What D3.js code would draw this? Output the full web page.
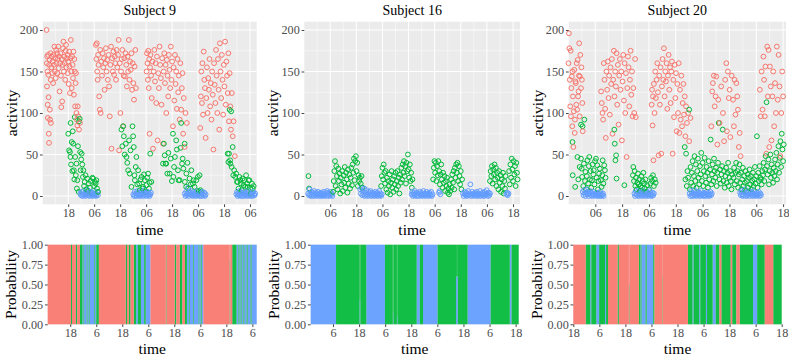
<!DOCTYPE html>
<html lang="en">

<head>
    <meta charset="UTF-8">
    <script src="https://cdn.jsdelivr.net/npm/d3@7"></script>
    <title>Activity states - Subjects 9, 16, 20</title>
    <style>
        body { margin: 0; background: #fff; }
    </style>
</head>

<body>
    <div id="viz"></div>

    <script>
        // time is in hours from midnight of the first day; [hour, activity]
        const s9Active = [[8.0,200],[8.1,160],[8.2,132],[8.3,168],[8.4,150],[8.5,110],[8.6,94],[8.7,170],[8.8,146],[8.9,119],[9.0,75],[9.1,64],[9.2,158],[9.4,164],[9.5,104],[9.6,92],[9.8,172],[9.9,140],[10.0,88],[10.2,155],[10.4,168],[10.6,148],[10.8,162],[11.0,136],[11.2,170],[11.4,158],[11.6,180],[11.8,150],[12.0,166],[12.2,142],[12.4,176],[12.6,160],[12.8,172],[13.0,148],[13.2,165],[13.4,180],[13.6,154],[13.8,168],[14.0,126],[14.2,160],[14.4,172],[14.6,145],[14.8,107],[15.0,165],[15.2,114],[15.4,158],[15.6,178],[15.8,186],[16.0,150],[16.2,168],[16.4,160],[16.6,140],[16.8,175],[17.0,182],[17.2,155],[17.4,166],[17.6,170],[17.8,148],[18.0,162],[18.2,135],[18.4,174],[18.6,156],[18.8,124],[19.0,166],[19.2,188],[19.4,150],[19.6,130],[19.8,168],[20.0,158],[20.2,142],[20.4,174],[20.6,122],[20.8,165],[21.0,150],[21.2,108],[21.4,136],[21.6,148],[21.8,100],[22.0,92],[22.2,85],[22.4,108],[22.6,96],[23.0,80],[23.4,88],
            [30.8,182],[31.0,165],[31.2,184],[31.4,150],[31.6,140],[31.8,170],[32.0,158],[32.3,120],[32.6,104],[32.8,176],[33.0,100],[33.3,162],[33.6,145],[33.9,172],[34.2,155],[34.5,166],[34.8,128],[35.1,160],[35.4,178],[35.7,150],[36.0,164],[36.3,140],[36.6,170],[36.9,132],[37.2,96],[37.5,158],[37.8,180],[38.0,57],[38.3,166],[38.6,150],[38.9,174],[39.2,146],[39.5,168],[39.8,160],[40.1,140],[40.4,176],[40.7,155],[41.0,170],[41.3,188],[41.5,55],[41.8,160],[42.1,100],[42.4,150],[42.7,165],[43.0,176],[43.3,84],[43.6,145],[43.9,166],[44.2,144],[44.5,172],[44.8,158],[45.1,132],[45.4,168],[45.7,150],[46.0,188],[46.3,140],[46.6,162],[46.9,152],[47.2,172],[47.5,128],[47.8,160],[48.1,136],[48.4,116],[48.7,156],[49.0,176],[49.3,130],
            [54.2,150],[54.4,172],[54.6,160],[54.8,140],[55.0,175],[55.2,130],[55.4,165],[55.6,75],[55.8,155],[56.0,170],[56.3,145],[56.6,118],[56.9,162],[57.2,57],[57.5,150],[57.8,176],[58.1,138],[58.4,160],[58.7,112],[59.0,168],[59.3,67],[59.6,148],[59.9,130],[60.2,180],[60.5,158],[60.8,142],[61.1,110],[61.4,166],[61.8,63],[62.1,150],[62.4,172],[62.7,136],[63.0,158],[63.3,100],[63.6,164],[63.9,145],[64.2,120],[64.5,170],[64.8,152],[65.1,130],[65.4,180],[65.7,140],[66.0,162],[66.4,84],[66.7,155],[67.0,115],[67.3,170],[67.6,135],[67.9,150],[68.2,105],[68.5,165],[68.8,125],[69.1,145],[69.5,92],[69.8,160],[70.2,104],[70.5,130],[70.8,148],[71.1,75],[71.4,118],[71.8,59],[72.2,100],[72.8,88],
            [79.0,82],[79.3,120],[79.5,150],[79.8,112],[80.0,160],[80.3,98],[80.6,174],[80.9,140],[81.2,130],[81.5,70],[81.8,118],[82.1,155],[82.4,100],[82.7,142],[83.0,128],[83.3,165],[83.6,108],[83.9,136],[84.2,92],[84.5,150],[84.8,122],[85.1,56],[85.4,160],[85.7,134],[86.0,112],[86.3,176],[86.6,145],[86.9,100],[87.2,165],[87.5,128],[87.8,80],[88.1,184],[88.4,150],[88.7,118],[89.0,170],[89.3,140],[89.6,98],[89.9,158],[90.2,132],[90.5,186],[90.8,110],[91.1,162],[91.4,145],[91.7,124],[92.0,172],[92.3,90],[92.6,148],[92.9,108],[93.2,80],[93.6,124],[94.0,72],[94.4,90],[95.0,48]]
        const s9Moderate = [[18.0,75],[18.4,55],[18.8,53],[19.0,47],[19.1,88],[19.3,38],[19.6,65],[19.9,30],[20.1,78],[20.3,63],[20.6,31],[20.8,20],[21.0,95],[21.2,47],[21.5,25],[21.8,39],[22.0,9],[22.2,19],[22.5,60],[22.8,5],[23.0,90],[23.3,93],[23.5,53],[23.7,31],[24.0,44],[24.2,51],[24.5,38],[24.8,23],[25.0,31],[25.3,12],[25.6,17],[26.0,25],[26.4,8],[26.8,21],[27.2,6],[27.5,15],[28.0,10],[28.4,18],[28.8,4],[29.2,22],[29.5,21],[30.0,12],[30.4,17],[30.7,15],[31.0,19],[31.3,9],[31.8,5],
            [42.6,80],[43.0,60],[43.4,84],[43.7,72],[44.1,50],[44.6,63],[44.9,47],[45.3,40],[45.7,31],[46.1,67],[46.4,27],[46.8,55],[47.2,11],[47.7,84],[48.0,72],[48.3,59],[48.6,25],[48.8,19],[49.2,35],[49.5,47],[49.9,14],[50.3,31],[50.8,15],[51.1,7],[51.5,20],[51.9,23],[52.3,9],[52.6,11],[53.0,26],[53.4,19],[53.8,5],[54.1,13],[54.5,22],[54.9,27],[55.3,9],[55.6,16],[55.9,51],[56.4,17],
            [61.8,39],[62.2,63],[62.6,49],[63.0,39],[63.3,39],[63.8,27],[64.3,52],[64.9,27],[65.4,45],[65.9,18],[66.4,75],[66.6,23],[66.9,35],[67.3,47],[67.9,67],[68.2,56],[68.7,31],[69.0,19],[69.5,19],[69.9,58],[70.2,88],[70.6,39],[70.9,45],[71.2,33],[71.8,63],[71.9,17],[72.5,11],[72.6,27],[73.1,40],[73.4,9],[74.1,21],[74.6,14],[74.9,31],[75.6,15],[75.9,19],[76.4,11],[77.2,19],[77.9,23],[78.3,6],[78.7,25],[79.1,7],[79.5,5],
            [91.7,51],[92.0,41],[92.3,51],[92.6,104],[92.8,43],[92.9,39],[93.3,102],[93.5,35],[94.0,59],[94.3,25],[94.7,31],[95.2,23],[95.6,27],[96.0,17],[96.3,17],[96.7,9],[97.1,23],[97.5,19],[97.8,15],[98.2,7],[98.6,21],[99.0,13],[99.4,19],[99.8,11],[100.2,25],[100.6,15],[100.9,11],[101.3,19],[101.7,19],[102.1,9],[102.5,3],[102.9,15],[103.3,9],[103.7,12]]
        const s9Rest = [[23.6,3],[23.9,1],[24.2,5],[24.5,0],[24.8,2],[25.1,6],[25.4,1],[25.7,3],[26.0,0],[26.3,4],[26.6,2],[26.9,7],[27.2,1],[27.5,3],[27.8,0],[28.1,5],[28.4,2],[28.7,1],[29.0,4],[29.3,0],[29.6,2],[29.9,6],[30.2,1],[30.5,3],[30.8,0],[31.1,2],[31.4,5],[31.7,1],
            [48.1,2],[48.4,0],[48.7,5],[49.0,1],[49.3,3],[49.6,0],[49.9,6],[50.2,2],[50.5,1],[50.8,4],[51.1,0],[51.4,3],[51.7,1],[52.0,5],[52.3,2],[52.6,0],[52.9,3],[53.2,7],[53.5,1],[53.8,4],[54.1,0],[54.4,2],[54.7,5],[55.0,1],[55.3,3],[55.6,0],[55.9,2],[56.2,4],
            [71.9,3],[72.2,0],[72.5,5],[72.8,1],[73.1,3],[73.4,10],[73.7,0],[74.0,4],[74.3,2],[74.6,6],[74.9,1],[75.2,3],[75.5,0],[75.8,5],[76.1,2],[76.4,1],[76.7,4],[77.0,0],[77.3,3],[77.6,6],[77.9,1],[78.2,2],[78.5,0],[78.8,4],[79.1,1],[79.4,3],[79.7,0],[80.0,5],[80.3,2],[80.6,1],[80.9,4],[81.2,0],[81.5,2],
            [95.7,2],[96.0,5],[96.3,0],[96.6,3],[96.9,1],[97.2,6],[97.5,2],[97.8,0],[98.1,4],[98.4,1],[98.7,3],[99.0,0],[99.3,5],[99.6,2],[99.9,1],[100.2,4],[100.5,0],[100.8,3],[101.1,6],[101.4,1],[101.7,2],[102.0,0],[102.3,4],[102.6,1],[102.9,3],[103.2,0],[103.5,5],[103.8,2],[104.1,1],[104.4,3]]

        const s16Active = []
        const s16Moderate = [[20.0,24],[20.3,9],
            [31.3,5],[31.6,18],[31.9,30],[32.2,42],[32.5,12],[32.8,36],[33.1,24],[33.4,8],[33.7,33],[34.0,18],[34.3,27],[34.6,3],[34.9,22],[35.2,14],[35.5,30],[35.8,6],[36.1,25],[36.4,16],[36.7,35],[37.0,10],[37.3,28],[37.6,20],[37.9,4],[38.2,32],[38.5,15],[38.8,26],[39.1,9],[39.4,22],[39.7,34],[40.0,13],[40.3,38],[40.6,28],[40.9,45],[41.2,19],[41.5,42],[41.8,48],[42.1,30],[42.4,40],[42.7,12],[43.0,25],[43.3,18],[43.6,22],[44.0,15],[44.4,24],[44.8,10],
            [53.4,12],[53.7,24],[54.0,34],[54.3,20],[54.6,38],[54.9,28],[55.2,15],[55.5,30],[55.8,8],[56.1,22],[56.4,4],[56.7,18],[57.0,12],[57.3,26],[57.6,2],[57.9,16],[58.2,30],[58.5,10],[58.8,20],[59.1,5],[59.4,24],[59.7,14],[60.0,28],[60.3,8],[60.6,18],[60.9,30],[61.2,12],[61.5,22],[61.8,3],[62.1,26],[62.4,16],[62.7,34],[63.0,20],[63.3,38],[63.6,28],[63.9,42],[64.2,24],[64.5,36],[64.8,15],[65.1,40],[65.4,30],[65.7,50],[66.0,32],[66.3,22],[66.6,38],[66.9,18],[67.2,28],[67.5,10],[67.8,20],
            [77.3,20],[77.6,34],[77.9,42],[78.2,28],[78.5,40],[78.8,18],[79.1,36],[79.4,25],[79.7,42],[80.1,30],[80.4,14],[80.7,26],[81.0,38],[81.3,20],[81.6,10],[81.9,28],[82.2,16],[82.5,24],[82.8,6],[83.1,18],[83.4,12],[83.7,22],[84.0,4],[84.3,9],[84.6,2],[84.9,14],[85.2,6],[85.5,20],[85.8,10],[86.1,26],[86.4,16],[86.7,30],[87.0,8],[87.3,34],[87.6,22],[87.9,38],[88.2,28],[88.5,40],[88.8,18],[89.1,36],[89.4,24],[89.7,14],[90.0,30],[90.3,8],[90.6,20],
            [103.4,18],[103.7,30],[104.0,24],[104.3,36],[104.6,15],[104.9,32],[105.2,26],[105.5,38],[105.8,20],[106.1,34],[106.4,12],[106.7,28],[107.0,22],[107.3,8],[107.6,30],[107.9,16],[108.2,25],[108.5,5],[108.8,20],[109.1,12],[109.4,28],[109.7,3],[110.0,18],[110.3,9],[110.6,24],[112.2,30],[112.5,14],[112.8,38],[113.1,22],[113.4,45],[113.7,32],[114.0,18],[114.3,42],[114.6,26],[114.9,36],[115.2,12],[115.5,40],[115.8,28],[116.1,20]]
        const s16Rest = [[19.9,3],[20.2,1],[20.5,8],[20.8,2],[21.1,0],[21.4,5],[21.7,1],[22.0,3],[22.3,0],[22.6,6],[22.9,2],[23.2,1],[23.5,4],[23.8,0],[24.1,2],[24.4,5],[24.7,1],[25.0,3],[25.3,0],[25.6,2],[25.9,4],[26.2,1],[26.5,0],[26.8,3],[27.1,5],[27.4,1],[27.7,2],[28.0,0],[28.3,4],[28.6,6],[28.9,1],[29.2,3],[29.5,0],[29.8,2],[30.1,5],[30.4,1],[30.7,3],[31.0,0],
            [43.8,8],[44.1,3],[44.4,10],[44.7,1],[45.0,6],[45.3,2],[45.6,9],[45.9,0],[46.2,4],[46.5,1],[46.8,7],[47.1,2],[47.4,0],[47.7,5],[48.0,3],[48.3,1],[48.6,6],[48.9,0],[49.2,2],[49.5,4],[49.8,1],[50.1,3],[50.4,0],[50.7,5],[51.0,2],[51.3,1],[51.6,4],[51.9,0],[52.2,2],[52.5,6],[52.8,1],[53.1,3],[53.4,0],[53.7,2],
            [67.4,2],[67.7,5],[68.0,0],[68.3,3],[68.6,1],[68.9,6],[69.2,2],[69.5,0],[69.8,4],[70.1,1],[70.4,3],[70.7,0],[71.0,5],[71.3,2],[71.6,1],[71.9,4],[72.2,0],[72.5,2],[72.8,6],[73.1,1],[73.4,3],[73.7,0],[74.0,2],[74.3,5],[74.6,1],[74.9,3],[75.2,0],[75.5,4],[75.8,2],[76.1,1],[76.4,5],[76.7,0],[77.0,2],[80.0,4],[80.3,6],[80.6,2],
            [91.0,3],[91.3,0],[91.6,5],[91.9,2],[92.2,1],[92.5,4],[92.8,0],[93.1,2],[93.4,6],[93.7,1],[94.0,3],[94.4,14],[94.7,0],[95.0,2],[95.3,5],[95.6,1],[95.9,3],[96.2,0],[96.5,4],[96.8,2],[97.1,1],[97.4,5],[97.7,0],[98.0,3],[98.3,1],[98.6,2],[98.9,6],[99.2,0],[99.5,3],[99.8,1],[100.1,4],[100.4,2],[100.7,0],[101.0,5],[101.3,1],[101.6,3],[101.9,7],[102.2,2],[102.5,0],[102.8,4],[103.1,1],[103.4,3],[111.0,2],[111.3,4],[111.6,1],[111.9,3]]

        const s20Active = [[18.0,160],[18.2,196],[18.4,178],[18.6,140],[18.8,108],[19.0,175],[19.1,96],[19.3,130],[19.5,144],[19.7,84],[19.8,150],[20.0,120],[20.2,59],[20.4,102],[20.6,152],[20.8,76],[20.9,92],[21.1,138],[21.3,136],[21.5,110],[21.7,160],[21.9,104],[22.1,164],[22.3,120],[22.5,126],[22.7,145],[22.8,184],[23.0,96],[23.1,144],[23.3,170],[23.6,130],[23.8,155],[24.0,140],[24.2,112],[24.4,78],
            [32.6,126],[32.9,112],[33.2,100],[33.5,92],[33.8,160],[34.1,140],[34.4,105],[34.7,70],[35.0,150],[35.3,128],[35.6,162],[35.9,118],[36.2,145],[36.5,98],[36.8,155],[37.1,135],[37.4,165],[37.7,75],[38.0,140],[38.3,175],[38.6,120],[38.9,150],[39.2,132],[39.5,172],[39.8,110],[40.1,158],[40.4,86],[40.7,145],[41.0,165],[41.3,128],[41.6,150],[41.9,67],[42.2,138],[42.5,170],[42.8,115],[43.1,160],[43.4,100],[43.7,148],[44.0,47],[44.3,130],[44.6,168],[44.9,155],[45.2,108],[45.5,140],[45.8,175],[46.1,122],[46.4,150],[46.7,96],[47.0,130],[47.4,100],[47.8,165],[48.1,95],
            [55.2,110],[55.4,128],[55.6,85],[55.8,120],[56.0,43],[56.2,135],[56.5,100],[56.8,150],[57.1,118],[57.4,140],[57.7,160],[58.0,125],[58.3,49],[58.6,145],[58.9,110],[59.2,155],[59.5,51],[59.8,132],[60.1,165],[60.4,140],[60.7,178],[61.0,120],[61.3,150],[61.6,138],[61.9,160],[62.2,105],[62.5,145],[62.8,170],[63.1,128],[63.4,155],[63.7,112],[64.0,150],[64.3,162],[64.6,51],[64.9,140],[65.2,95],[65.5,158],[65.8,118],[66.1,148],[66.4,78],[66.7,135],[67.0,100],[67.3,160],[67.6,76],[67.9,128],[68.2,92],[68.5,145],[68.8,84],[69.1,112],[69.4,135],[69.7,98],[70.0,120],[70.3,72],[70.6,108],[71.0,88],[71.5,100],[72.0,66],[72.6,94],
            [81.9,84],[82.3,126],[82.6,136],[83.0,145],[83.4,108],[83.8,120],[84.1,144],[84.6,62],[85.0,116],[85.6,88],[86.3,132],[87.1,100],[87.6,66],[88.1,140],[88.6,160],[88.9,78],[89.3,150],[89.7,118],[90.1,128],[90.4,71],[91.0,145],[91.6,116],[92.0,84],[92.3,140],[92.7,98],[93.1,136],[93.5,120],[93.8,104],[94.2,59],[94.6,76],[95.0,48],
            [103.6,128],[104.0,96],[104.4,150],[104.8,104],[105.2,168],[105.5,140],[105.8,96],[106.1,156],[106.5,51],[106.9,180],[107.2,120],[107.5,176],[107.8,59],[108.1,156],[108.5,132],[108.8,67],[109.2,120],[109.6,150],[110.0,84],[110.4,136],[110.8,100],[111.2,180],[111.6,116],[112.0,170],[112.4,132],[112.8,48],[113.2,100],[113.6,150],[114.0,120]]
        const s20Moderate = [[19.8,65],[19.9,25],[21.0,11],[22.0,47],[22.4,20],[23.0,35],[23.6,86],[23.6,45],[23.9,33],[24.1,23],[24.3,84],[24.6,12],[24.9,39],[25.1,92],[25.4,18],[25.6,29],[25.9,8],[26.2,24],[26.5,43],[26.8,15],[27.1,36],[27.3,47],[27.6,20],[27.9,30],[28.2,10],[28.5,19],[28.8,38],[29.1,26],[29.3,31],[29.6,14],[29.9,42],[30.3,45],[30.6,22],[30.9,37],[31.2,8],[31.4,18],[31.7,27],[32.0,33],[32.5,19],[32.8,11],[33.1,25],[33.3,43],[33.6,15],[34.0,37],[34.3,31],[34.6,22],[38.5,80],[38.7,63],[39.0,43],[39.3,49],[39.5,21],[43.0,13],
            [46.8,25],[47.0,35],[47.3,18],[47.6,30],[47.9,12],[48.2,22],[48.5,8],[48.8,16],[49.1,27],[49.4,14],[49.7,20],[50.0,6],[50.3,12],[50.6,24],[50.9,10],[51.2,18],[51.5,28],[51.8,15],[52.1,9],[52.4,20],[52.8,5],[53.2,13],[54.0,8],[54.6,15],[55.0,22],[55.4,18],[55.8,25],[56.2,12],[56.6,20],[57.0,16],
            [70.0,59],[70.3,20],[70.6,51],[70.9,12],[71.2,30],[71.5,22],[72.0,104],[72.3,8],[72.6,35],[72.9,16],[73.2,28],[73.5,42],[73.8,12],[74.1,24],[74.4,48],[74.7,18],[75.0,38],[75.3,10],[75.6,30],[75.9,45],[76.2,22],[76.5,14],[76.8,36],[77.1,26],[77.4,52],[77.7,18],[78.0,40],[78.3,12],[78.6,30],[78.9,46],[79.2,24],[79.5,16],[79.8,35],[80.1,28],[80.4,10],[80.7,42],[81.0,20],[81.3,32],[81.6,68],[81.9,14],[82.2,26],[82.5,38],[82.8,18],[83.1,45],[83.4,30],[83.7,22],[84.0,34],[84.3,12],[84.6,28],[84.9,40],[85.2,88],[85.5,20],[85.8,32],[86.1,15],[86.4,26],[86.7,36],[87.0,80],[87.3,18],[87.6,30],[87.9,10],[88.2,24],[88.5,34],[88.8,16],[89.1,28],[89.4,40],[89.7,12],[90.0,22],[90.3,30],[90.6,18],[90.9,8],[91.2,26],
            [91.8,22],[92.1,34],[92.4,14],[92.7,28],[93.0,40],[93.3,18],[93.6,30],[93.9,10],[94.2,26],[94.5,38],[94.8,16],[95.1,28],[95.4,8],[95.7,20],[96.0,34],[96.3,12],[96.6,24],[96.9,16],[97.2,30],[97.5,6],[97.8,18],[98.1,26],[98.4,10],[98.7,22],[99.0,32],[99.3,14],[99.6,24],[99.9,8],[100.2,18],[100.5,28],[100.8,12],[101.1,20],[101.4,35],[101.7,15],[102.0,24],[102.3,72],[102.6,10],[102.9,28],[103.2,18],[103.5,36],[103.8,22],[104.1,20],[104.4,14],[104.7,30],[105.0,25],[105.3,40],[105.6,18],[105.9,32],[106.2,48],[106.6,113],[106.8,36],[107.1,26],[107.4,44],[107.7,14],[108.0,30],[108.3,50],[108.6,22],[108.9,38],[109.2,28],[109.5,16],[109.8,34],[110.1,24],[110.4,44],[110.7,30],[111.0,52],[111.3,20],[111.6,38],[111.9,60],[112.2,28],[112.5,46],[112.8,66],[113.1,35],[113.4,75],[113.7,56],[114.0,42],[114.3,62]]
        const s20Rest = [[24.4,5],[24.7,1],[25.0,7],[25.3,3],[25.6,0],[25.9,4],[26.2,8],[26.5,2],[26.8,5],[27.1,0],[27.4,3],[27.7,6],[28.0,1],[28.3,4],[28.6,0],[28.9,2],[29.2,5],[29.5,1],[29.8,3],[30.1,0],[30.4,2],[30.7,4],[31.0,1],[31.3,0],[31.6,3],[31.9,1],[32.2,5],[32.5,0],[32.8,2],[33.1,1],[33.4,3],[33.7,0],
            [47.5,3],[47.8,0],[48.1,6],[48.4,2],[48.7,1],[49.0,5],[49.3,0],[49.6,3],[49.9,7],[50.2,1],[50.5,4],[50.8,0],[51.1,2],[51.4,6],[51.7,1],[52.0,3],[52.3,0],[52.6,5],[52.9,2],[53.2,1],[53.5,4],[53.8,0],[54.1,3],[54.4,6],[54.7,1],[55.0,2],[55.3,0],[55.6,4],[55.9,1],[56.2,3],
            [72.2,3],[72.5,0],[72.8,6],[73.1,1],[73.4,4],[73.7,0],[74.0,2],[74.3,7],[74.6,1],[74.9,3],[75.2,0],[75.5,5],[75.8,2],[76.1,1],[76.4,4],[76.7,0],[77.0,3],[77.3,6],[77.6,1],[77.9,2],[78.2,0],[78.5,4],[78.8,1],[79.1,3],[79.4,0],[79.7,5],[80.0,2],[80.3,1],[80.6,4],[80.9,0],[81.2,2],[81.5,5],[81.8,1],[82.1,3],
            [94.8,4],[95.1,1],[95.4,6],[95.7,2],[96.0,0],[96.3,5],[96.6,1],[96.9,8],[97.2,3],[97.5,0],[97.8,4],[98.1,1],[98.4,6],[98.7,2],[99.0,0],[99.3,3],[99.6,5],[99.9,1],[100.2,4],[100.5,0],[100.8,2],[101.1,6],[101.4,1],[101.7,3],[102.0,0],[102.3,4],[102.6,1],[102.9,2],[103.2,5],[103.5,0],[103.8,3],[104.1,1]]

        // decoded state probabilities: [from hour, to hour, p(active), p(moderate), p(rest)]
        const s9Probs = [[7.6,18.3,1,0,0],[18.3,18.8,0,1,0],[18.8,20.6,1,0,0],[20.6,21.2,0,1,0],[21.2,22.5,1,0,0],[22.5,23.6,0,1,0],[23.6,24.1,0,0,1],[24.1,24.4,0,1,0],[24.4,25.6,0,0,1],[25.6,25.9,0,1,0],[25.9,26.6,0,0,1],[26.6,26.9,0,1,0],[26.9,29.0,0,0,1],[29.0,29.3,0,1,0],[29.3,30.0,0,0,1],[30.0,31.2,0,1,0],
            [31.2,43.6,1,0,0],[43.6,44.2,0,1,0],[44.2,45.0,1,0,0],[45.0,45.8,0,1,0],[45.8,47.3,1,0,0],[47.3,48.4,0,1,0],[48.4,49.2,0,0,1],[49.2,50.6,0,1,0],[50.6,52.1,0,0,1],[52.1,52.8,0,1,0],[52.8,55.0,0,0,1],
            [55.0,62.1,1,0,0],[62.1,62.4,0,1,0],[62.4,66.2,1,0,0],[66.2,66.9,0,1,0],[66.9,68.5,1,0,0],[68.5,69.7,0,1,0],[69.7,70.9,1,0,0],[70.9,71.8,0,1,0],[71.8,72.9,0,0,1],[72.9,73.2,0,1,0],[73.2,74.7,0,0,1],[74.7,75.0,0,1,0],[75.0,77.2,0,0,1],[77.2,77.5,0,1,0],[77.5,78.2,0,0,1],[78.2,78.6,0,1,0],[78.6,79.4,0,0,1],
            [79.4,91.5,1,0,0],[91.5,91.8,0.2,0.8,0],[91.8,92.7,1,0,0],[92.7,94.7,0,1,0],[94.7,95.6,0,0,1],[95.6,96.0,0,1,0],[96.0,96.6,0,0,1],[96.6,97.0,0,1,0],[97.0,97.9,0,0,1],[97.9,98.3,0,1,0],[98.3,99.4,0,0,1],[99.4,99.8,0,1,0],[99.8,101.2,0,0,1],[101.2,101.6,0,1,0],[101.6,104.0,0,0,1]]
        const s16Probs = [[19.75,31.4,0,0,1],[31.4,42.2,0,1,0],[42.2,42.6,0,0.7,0.3],[42.6,45.3,0,1,0],[45.3,53.9,0,0,1],[53.9,57.5,0,1,0],[57.5,57.8,0,0.85,0.15],[57.8,59.4,0,1,0],[59.4,59.7,0,0.9,0.1],[59.7,68.5,0,1,0],[68.5,69.9,0,0,1],[69.9,71.4,0,1,0],[71.4,78.1,0,0,1],[78.1,86.6,0,1,0],[86.6,87.4,0,0.4,0.6],[87.4,91.9,0,1,0],[91.9,102.5,0,0,1],[102.5,111.3,0,1,0],[111.3,112.1,0,0,1],[112.1,115.4,0,1,0]]
        const s20Probs = [[18.0,23.7,1,0,0],[23.7,25.8,0,1,0],[25.8,26.3,0,0,1],[26.3,28.6,0,1,0],[28.6,29.9,0,0,1],[29.9,32.6,0,1,0],[32.6,33.1,0,0,1],[33.1,34.0,0,1,0],
            [34.0,38.4,1,0,0],[38.4,39.0,0,1,0],[39.0,43.6,1,0,0],[43.6,43.9,0.5,0.5,0],[43.9,48.2,1,0,0],[48.2,48.8,0,1,0],[48.8,49.0,0,0,1],[49.0,49.4,0,1,0],[49.4,51.3,0,0,1],[51.3,51.8,0,1,0],[51.8,54.8,0,0,1],[54.8,55.4,0,1,0],
            [55.4,59.1,1,0,0],[59.1,59.3,0.4,0.6,0],[59.3,70.8,1,0,0],[70.8,72.9,0,1,0],[72.9,73.4,0,0,1],[73.4,76.0,0,1,0],[76.0,76.5,0,0,1],[76.5,79.1,0,1,0],[79.1,79.6,0,0,1],[79.6,82.2,0,1,0],[82.2,83.6,0,0,1],[83.6,85.3,0,1,0],
            [85.3,86.2,1,0,0],[86.2,90.5,0,1,0],[90.5,91.2,1,0,0],[91.2,93.1,0,1,0],[93.1,94.7,1,0,0],[94.7,100.8,0,1,0],[100.8,102.7,0,0,1],[102.7,106.2,0,1,0],[106.2,110.1,1,0,0],[110.1,114.0,0,1,0]]

        const subjectNames = ["Subject 9", "Subject 16", "Subject 20"]
        const topDomains = [[6.2, 105.1], [18.1, 117.2], [18.1, 115.3]]
        const activityTicks = [0, 50, 100, 150, 200]
        const activityMinor = [25, 75, 125, 175]
        const probTicks = [0, 0.25, 0.5, 0.75, 1]

        const stateKeys = ["active", "moderate", "rest"]
        const stateColors = { active: "#F8766D", moderate: "#00BA38", rest: "#619CFF" }

        const subjects = [
            { points: [s9Active, s9Moderate, s9Rest], probs: s9Probs },
            { points: [s16Active, s16Moderate, s16Rest], probs: s16Probs },
            { points: [s20Active, s20Moderate, s20Rest], probs: s20Probs }
        ]

        // layout (pixels)
        const fullWidth = 789, fullHeight = 359
        const topBoxes = [[42.7, 256.7], [304.3, 520], [568.7, 786]]
        const topY = [21.7, 204.3]
        const botBoxes = [[47.7, 256.7], [310.7, 518.7], [573.3, 781.7]]
        const botY = [244.7, 324.3]
        const serif = "'Liberation Serif'"
        const tickFont = 12.2, titleFont = 15.5

        const svg = d3.select("#viz").append("svg")
            .attr("width", fullWidth)
            .attr("height", fullHeight)
            .style("font-family", serif)

        // hours in the domain that fall on the given hour of a 12h cycle
        function hoursAt(domain, offset) {
            const first = Math.ceil((domain[0] - offset) / 12) * 12 + offset
            return d3.range(first, domain[1] + 1e-9, 12)
        }

        function styleAxis(g) {
            g.select(".domain").remove()
            g.attr("font-family", null).attr("font-size", tickFont)
            g.selectAll("line").attr("stroke", "#333333").attr("stroke-width", 0.9)
            g.selectAll("text").attr("fill", "#4D4D4D").style("font-family", serif)
        }

        function label(g, txt, size) {
            return g.append("text")
                .attr("text-anchor", "middle")
                .attr("font-size", size)
                .style("font-family", serif)
                .text(txt)
        }

        function drawTop(i) {
            const subj = subjects[i]
            const [x0, x1] = topBoxes[i]
            const x = d3.scaleLinear().domain(topDomains[i]).range([x0, x1])
            const y = d3.scaleLinear().domain([-10, 210]).range([topY[1], topY[0]])
            const g = svg.append("g")

            g.append("rect")
                .attr("x", x0).attr("y", topY[0])
                .attr("width", x1 - x0).attr("height", topY[1] - topY[0])
                .attr("fill", "#EBEBEB")

            const majorX = hoursAt(topDomains[i], 6)
            const minorX = hoursAt(topDomains[i], 0)
            g.selectAll(".vminor").data(minorX).enter().append("line")
                .attr("x1", d => x(d)).attr("x2", d => x(d))
                .attr("y1", topY[0]).attr("y2", topY[1])
                .attr("stroke", "#fff").attr("stroke-width", 0.5)
            g.selectAll(".hminor").data(activityMinor).enter().append("line")
                .attr("x1", x0).attr("x2", x1)
                .attr("y1", d => y(d)).attr("y2", d => y(d))
                .attr("stroke", "#fff").attr("stroke-width", 0.5)
            g.selectAll(".vmajor").data(majorX).enter().append("line")
                .attr("x1", d => x(d)).attr("x2", d => x(d))
                .attr("y1", topY[0]).attr("y2", topY[1])
                .attr("stroke", "#fff").attr("stroke-width", 1)
            g.selectAll(".hmajor").data(activityTicks).enter().append("line")
                .attr("x1", x0).attr("x2", x1)
                .attr("y1", d => y(d)).attr("y2", d => y(d))
                .attr("stroke", "#fff").attr("stroke-width", 1)

            // points in time order, coloured by state
            const pts = []
            subj.points.forEach((list, s) => list.forEach(d => pts.push({ t: d[0], v: d[1], key: stateKeys[s] })))
            pts.sort((a, b) => a.t - b.t)
            g.selectAll(".pt").data(pts).enter().append("circle")
                .attr("cx", d => x(d.t))
                .attr("cy", d => y(d.v))
                .attr("r", 2.4)
                .attr("fill", "none")
                .attr("stroke", d => stateColors[d.key])
                .attr("stroke-width", 1)

            g.append("g")
                .attr("transform", `translate(0,${topY[1]})`)
                .call(d3.axisBottom(x).tickValues(majorX)
                    .tickFormat(d => (d % 24 === 18 ? "18" : "06"))
                    .tickSize(2.75).tickPadding(1.6))
                .call(styleAxis)
            g.append("g")
                .attr("transform", `translate(${x0},0)`)
                .call(d3.axisLeft(y).tickValues(activityTicks).tickSize(2.75).tickPadding(1.8))
                .call(styleAxis)

            label(g, subjectNames[i], 14)
                .attr("x", (x0 + x1) / 2).attr("y", 14.5)
            label(g, "time", titleFont)
                .attr("x", (x0 + x1) / 2).attr("y", 235)
            label(g, "activity", titleFont)
                .attr("transform", `translate(${x0 - 26},${(topY[0] + topY[1]) / 2}) rotate(-90)`)
        }

        function drawBottom(i) {
            const subj = subjects[i]
            const [x0, x1] = botBoxes[i]
            const rows = subj.probs.map(p => ({ t0: p[0], t1: p[1], active: p[2], moderate: p[3], rest: p[4] }))
            const domain = [d3.min(rows, d => d.t0), d3.max(rows, d => d.t1)]
            const x = d3.scaleLinear().domain(domain).range([x0, x1])
            const y = d3.scaleLinear().domain([0, 1]).range([botY[1], botY[0]])
            const g = svg.append("g")

            g.append("rect")
                .attr("x", x0).attr("y", botY[0])
                .attr("width", x1 - x0).attr("height", botY[1] - botY[0])
                .attr("fill", "#EBEBEB")

            // rest at the bottom, active on top
            const series = d3.stack().keys(["rest", "moderate", "active"])(rows)
            g.selectAll(".layer").data(series).enter().append("g")
                .attr("fill", d => stateColors[d.key])
                .attr("fill-opacity", 0.92)
                .selectAll("rect").data(d => d).enter().append("rect")
                .attr("x", d => x(d.data.t0))
                .attr("width", d => x(d.data.t1) - x(d.data.t0))
                .attr("y", d => y(d[1]))
                .attr("height", d => y(d[0]) - y(d[1]))

            g.append("g")
                .attr("transform", `translate(0,${botY[1]})`)
                .call(d3.axisBottom(x).tickValues(hoursAt(domain, 6))
                    .tickFormat(d => (d % 24 === 18 ? "18" : "6"))
                    .tickSize(2.75).tickPadding(1.4))
                .call(styleAxis)
            g.append("g")
                .attr("transform", `translate(${x0},0)`)
                .call(d3.axisLeft(y).tickValues(probTicks).tickFormat(d3.format(".2f"))
                    .tickSize(2.75).tickPadding(1.8))
                .call(styleAxis)

            label(g, "time", titleFont)
                .attr("x", (x0 + x1) / 2).attr("y", 354)
            label(g, "Probability", titleFont)
                .attr("transform", `translate(${x0 - 31.5},${(botY[0] + botY[1]) / 2}) rotate(-90)`)
        }

        subjects.forEach((s, i) => { drawTop(i); drawBottom(i) })
    </script>
</body>

</html>
